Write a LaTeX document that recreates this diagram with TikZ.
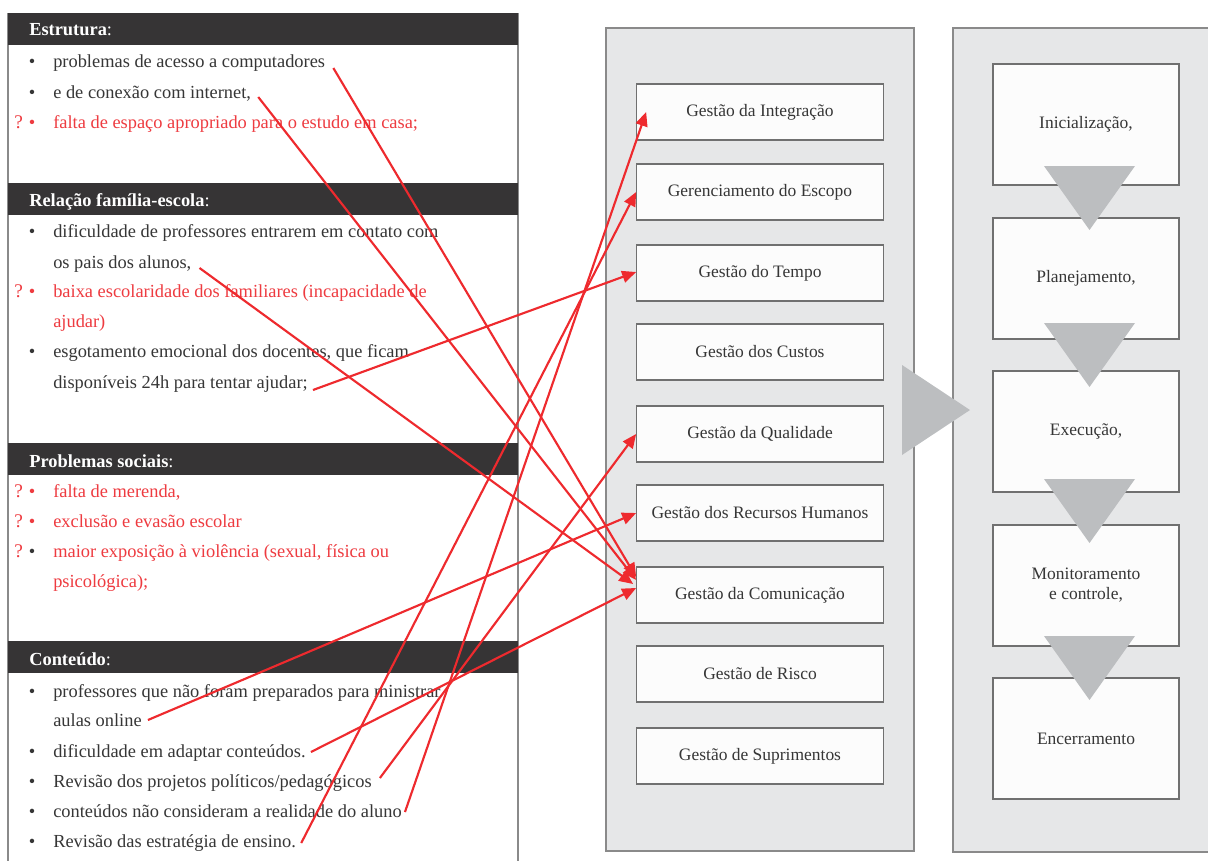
\documentclass[tikz,border=0pt]{standalone}
\usepackage{fontspec}
\setmainfont{Liberation Serif}
\usetikzlibrary{arrows.meta,calc}
\definecolor{ink}{HTML}{363636}
\definecolor{hdr}{HTML}{363435}
\definecolor{alert}{HTML}{EE3B40}
\definecolor{linkred}{HTML}{EE2A2E}
\definecolor{panel}{HTML}{E6E7E8}
\definecolor{frame}{HTML}{8A8A8A}
\definecolor{boxline}{HTML}{707070}
\definecolor{marker}{HTML}{BCBEC0}

\begin{document}
\begin{tikzpicture}[x=0.75pt,y=-0.75pt,
  txt/.style={font=\fontsize{13.8}{16}\selectfont},
  item/.style={txt, anchor=base west, inner sep=0pt, text=ink},
  hot/.style={item, text=alert},
  dot/.style={txt, anchor=base, inner sep=0pt, text=ink},
  hotdot/.style={dot, text=alert},
  qmark/.style={anchor=base west, inner sep=0pt, font=\fontsize{14.5}{16}\selectfont, text=alert},
  head/.style={txt, anchor=base west, inner sep=0pt, text=white},
  headbar/.style={fill=hdr},
  area/.style={draw=frame, fill=panel, line width=0.9pt},
  area box/.style={draw=boxline, fill=white!99!black, line width=0.8pt,
    minimum width=185pt, minimum height=42pt, inner sep=0pt, text=ink,
    font=\fontsize{13.1}{15}\selectfont},
  phase box/.style={draw=boxline, fill=white!99!black, line width=0.8pt,
    minimum width=139.5pt, minimum height=90.75pt, inner sep=0pt, text=ink,
    align=center, font=\fontsize{13.1}{15}\selectfont},
  flowmark/.style={fill=marker},
  link/.style={draw=linkred, line width=1.6pt, -{Triangle[length=10.5pt,width=9pt]}}
]
\useasboundingbox (0,0) rectangle (1208,861);
\clip (0,0) rectangle (1208,861);

% ---------- left column: list of problems ----------
\fill[white] (8,13) rectangle (518,870);
\draw[frame, line width=0.9pt] (8,13) -- (8,870) (518,13) -- (518,870);

\fill[headbar] (8,13) rectangle (518,45);
\fill[headbar] (8,183) rectangle (518,215);
\fill[headbar] (8,443) rectangle (518,475);
\fill[headbar] (8,641) rectangle (518,673);

\node[head] (h1) at (29,35)  {\textbf{Estrutura}:};
\node[head] (h2) at (29,206) {\textbf{Relação família-escola}:};
\node[head] (h3) at (29,467) {\textbf{Problemas sociais}:};
\node[head] (h4) at (29,665) {\textbf{Conteúdo}:};

\node[item] (e1) at (53,67)  {problemas de acesso a computadores};
\node[item] (e2) at (53,98)  {e de conexão com internet,};
\node[hot]  (e3) at (53,128) {falta de espaço apropriado para o estudo em casa;};

\node[item] (r1) at (53,237) {dificuldade de professores entrarem em contato com};
\node[item] (r2) at (53,268) {os pais dos alunos,};
\node[hot]  (r3) at (53,297) {baixa escolaridade dos familiares (incapacidade de};
\node[hot]  (r4) at (53,327) {ajudar)};
\node[item] (r5) at (53,357) {esgotamento emocional dos docentes, que ficam};
\node[item] (r6) at (53,388) {disponíveis 24h para tentar ajudar;};

\node[hot] (p1) at (53,497) {falta de merenda,};
\node[hot] (p2) at (53,527) {exclusão e evasão escolar};
\node[hot] (p3) at (53,557) {maior exposição à violência (sexual, física ou};
\node[hot] (p4) at (53,587) {psicológica);};

\node[item] (c1) at (53,697) {professores que não foram preparados para ministrar};
\node[item] (c2) at (53,726) {aulas online};
\node[item] (c3) at (53,757) {dificuldade em adaptar conteúdos.};
\node[item] (c4) at (53,787) {Revisão dos projetos políticos/pedagógicos};
\node[item] (c5) at (53,817) {conteúdos não consideram a realidade do aluno};
\node[item] (c6) at (53,847) {Revisão das estratégia de ensino.};

% bullets
\foreach \n/\y in {1/67,2/98,4/237,6/357,8/557,9/697,10/757,11/787,12/817,13/847}
  \node[dot] (b\n) at (32,\y) {•};
\foreach \n/\y in {3/128,5/297,7/497,14/527}
  \node[hotdot] (b\n) at (32,\y) {•};

% question marks
\foreach \n/\y in {1/128,2/297,3/497,4/527,5/557}
  \node[qmark] (q\n) at (14,\y) {?};

% ---------- middle column: knowledge areas ----------
\draw[area] (606,28) rectangle (914,851);
\node[area box] (integ) at (760,112) {Gestão da Integração};
\node[area box] (escopo) at (760,192) {Gerenciamento do Escopo};
\node[area box] (tempo) at (760,273) {Gestão do Tempo};
\node[area box] (custos) at (760,352) {Gestão dos Custos};
\node[area box] (qual) at (760,434) {Gestão da Qualidade};
\node[area box] (rh) at (760,513) {Gestão dos Recursos Humanos};
\node[area box] (com) at (760,595) {Gestão da Comunicação};
\node[area box] (risco) at (760,674) {Gestão de Risco};
\node[area box] (supr) at (760,756) {Gestão de Suprimentos};

% ---------- right column: process groups ----------
\draw[area] (953,28) rectangle (1215,852);
\node[phase box] (ini) at (1086,124.5) {Inicialização,};
\node[phase box] (plan) at (1086,278.5) {Planejamento,};
\node[phase box] (exe) at (1086,431.5) {Execução,};
\node[phase box] (mon) at (1086,585.5) {Monitoramento\\e controle,};
\node[phase box] (enc) at (1086,738.5) {Encerramento};

\foreach \t in {166,323,479,636}
  \fill[flowmark] (1044,\t) -- (1135,\t) -- (1089.5,\t+64) -- cycle;

% big arrow between the columns
\fill[flowmark] (902,365) -- (970,410) -- (902,455) -- cycle;

% ---------- links from problems to areas ----------
\draw[link] ($(e1.base east)+(8,1)$) -- ($(com.west)+(0,-18)$);
\draw[link] ($(e2.base east)+(7,-1)$) -- ($(com.west)+(0,-15)$);
\draw[link] ($(r2.base east)+(8,0)$) -- ($(com.west)+(-3,-11)$);
\draw[link] ($(r6.base east)+(5,2)$) -- ($(tempo.west)+(0,-1)$);
\draw[link] ($(c2.base east)+(6,-6)$) -- (rh.west);
\draw[link] ($(c3.base east)+(5,-5)$) -- ($(com.west)+(0,-7)$);
\draw[link] ($(c4.base east)+(8,-9)$) -- (qual.west);
\draw[link] ($(c5.base east)+(3,-5)$) -- ($(integ.west)+(10,0)$);
\draw[link] ($(c6.base east)+(5,-4)$) -- (escopo.west);
\end{tikzpicture}
\end{document}
